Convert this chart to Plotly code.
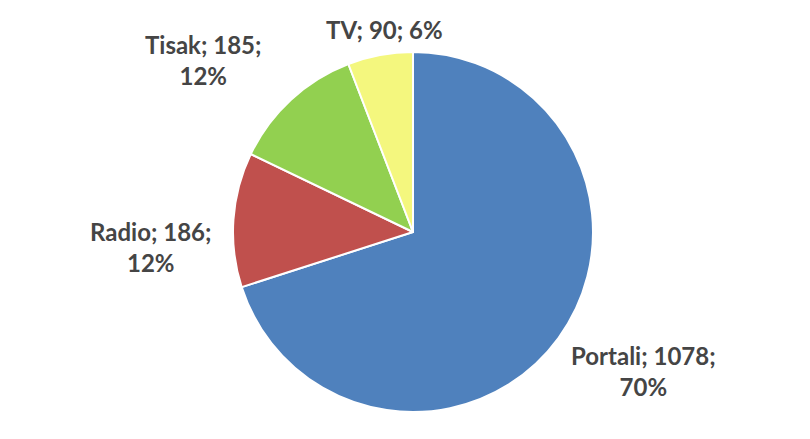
import plotly.graph_objects as go

categories = ["Portali", "Radio", "Tisak", "TV"]
values = [1078, 186, 185, 90]
colors = ["#4F81BD", "#C0504D", "#92D050", "#F4F77E"]
# label placement (paper coords) and whether the label wraps
label_pos = [(0.794, 0.155), (0.186, 0.437), (0.251, 0.863), (0.475, 0.932)]
label_wrap = [True, True, True, False]

total = sum(values)
W, H = 810, 439

fig = go.Figure(go.Pie(
    labels=categories,
    values=values,
    sort=False,
    direction="clockwise",
    rotation=0,
    marker=dict(colors=colors, line=dict(color="white", width=2)),
    textinfo="none",
    hoverinfo="label+value+percent",
    domain=dict(x=[(413 - 180) / W, (413 + 180) / W], y=[27 / H, 387 / H]),
    showlegend=False,
))

annotations = []
for name, v, (x, y), wrap in zip(categories, values, label_pos, label_wrap):
    pct = round(100 * v / total)
    sep = "<br>" if wrap else " "
    annotations.append(dict(
        text=f"{name}; {v};{sep}{pct}%",
        x=x, y=y, xref="paper", yref="paper",
        xanchor="center", yanchor="middle",
        showarrow=False,
        font=dict(family="Lato", size=24, color="#454545", weight="bold"),
    ))

fig.update_layout(
    width=W, height=H,
    margin=dict(l=0, r=0, t=0, b=0),
    paper_bgcolor="white",
    plot_bgcolor="white",
    annotations=annotations,
)

fig.write_html("out.html", config={"displayModeBar": False})
with open("out.html", encoding="utf-8") as f:
    html = f.read()
html = html.replace("<head>", "<head><style>body{margin:0;}</style>", 1)
with open("out.html", "w", encoding="utf-8") as f:
    f.write(html)
